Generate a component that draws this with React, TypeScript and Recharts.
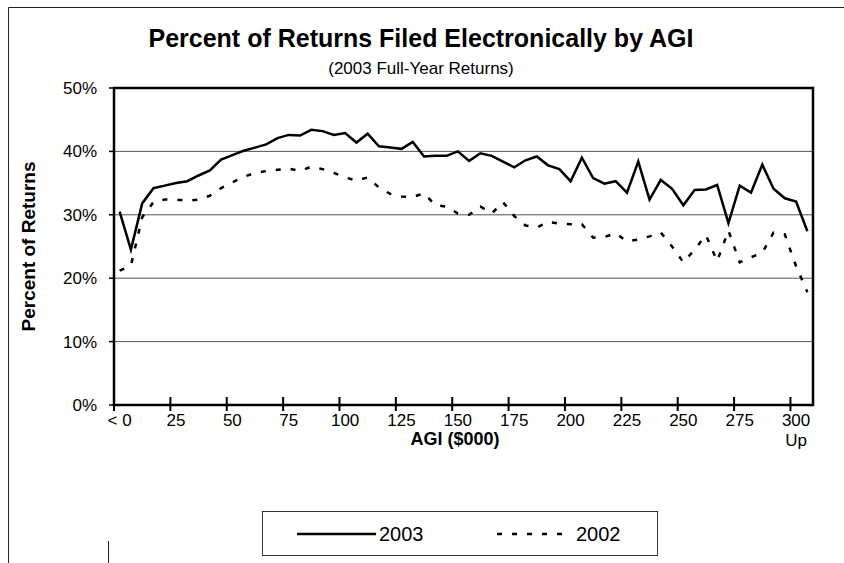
import { LineChart, Line, XAxis, YAxis, CartesianGrid, Legend } from "recharts";

// AGI bins in $000 (upper bound of each 5k bin)
const AGI_BINS = [
  "< 0", "5", "10", "15", "20", "25", "30", "35", "40", "45",
  "50", "55", "60", "65", "70", "75", "80", "85", "90", "95",
  "100", "105", "110", "115", "120", "125", "130", "135", "140", "145",
  "150", "155", "160", "165", "170", "175", "180", "185", "190", "195",
  "200", "205", "210", "215", "220", "225", "230", "235", "240", "245",
  "250", "255", "260", "265", "270", "275", "280", "285", "290", "295",
  "300", "300 Up",
];

// extra line under some tick labels
const TICK_TEXT: Record<string, string[]> = { "300": ["300", "Up"] };

const PCT_TICKS = [0, 10, 20, 30, 40, 50];

const SHARE_2003 = [
  30.5, 24.5, 31.8, 34.2, 34.6, 35.0, 35.3, 36.2, 37.0, 38.7,
  39.4, 40.1, 40.6, 41.1, 42.1, 42.6, 42.5, 43.4, 43.2, 42.6,
  42.9, 41.4, 42.8, 40.8, 40.6, 40.4, 41.5, 39.2, 39.3, 39.3,
  40.0, 38.5, 39.7, 39.3, 38.4, 37.5, 38.6, 39.2, 37.8, 37.2,
  35.3, 39.0, 35.8, 34.9, 35.3, 33.5, 38.4, 32.4, 35.5, 34.1,
  31.5, 33.9, 34.0, 34.7, 28.7, 34.6, 33.5, 37.9, 34.1, 32.6,
  32.1, 27.4,
];

const SHARE_2002 = [
  21.2, 22.0, 29.6, 32.0, 32.4, 32.4, 32.2, 32.4, 33.0, 34.2,
  35.1, 36.0, 36.6, 36.9, 37.1, 37.3, 36.9, 37.6, 37.2, 36.6,
  35.9, 35.4, 35.9, 34.3, 33.3, 32.9, 32.8, 33.4, 31.5, 31.3,
  30.2, 30.0, 31.3, 30.2, 32.0, 29.8, 28.3, 28.0, 28.9, 28.6,
  28.5, 28.5, 26.4, 26.5, 27.1, 25.8, 26.1, 26.6, 27.2, 25.0,
  22.5, 24.5, 26.8, 22.7, 27.5, 22.5, 23.3, 24.0, 27.2, 26.9,
  21.9, 17.8,
];

const SERIES = [
  { key: "y2003", name: "2003", dash: undefined as string | undefined },
  { key: "y2002", name: "2002", dash: "5 10" },
];

const data = AGI_BINS.map((bin, i) => ({ bin, y2003: SHARE_2003[i], y2002: SHARE_2002[i] }));

const FONT = '"Liberation Sans", Arial, Helvetica, sans-serif';
const W = 844;
const H = 563;
const PLOT_L = 114;
const PLOT_R = 813;
const PLOT_T = 88;
const PLOT_B = 405;
const BAND = (PLOT_R - PLOT_L) / AGI_BINS.length;

function AgiTick(props: any) {
  const { x, y, payload } = props;
  const lines = TICK_TEXT[payload.value] ?? [payload.value];
  const tx = x - BAND / 2;
  return (
    <g>
      <line x1={tx} x2={tx} y1={y - 8} y2={y + 6} stroke="#000" strokeWidth={2} />
      <text x={x} y={y + 21} textAnchor="middle" fontSize={17} fontFamily={FONT} fill="#000">
        {lines.map((t, i) => (
          <tspan key={i} x={x} dy={i === 0 ? 0 : 20}>{t}</tspan>
        ))}
      </text>
    </g>
  );
}

function LegendBox() {
  return (
    <div style={{ width: 396, height: 45, border: "1px solid #333", boxSizing: "border-box", background: "#fff" }}>
      <svg width={394} height={43} style={{ display: "block" }}>
        {SERIES.map((s, i) => {
          const x0 = i === 0 ? 34 : 234;
          return (
            <g key={s.key}>
              <line x1={x0} x2={x0 + (i === 0 ? 79 : 68)} y1={22} y2={22} stroke="#000" strokeWidth={2.5} strokeDasharray={s.dash} />
              <text x={i === 0 ? 116 : 313} y={29} fontSize={20} fontFamily={FONT} fill="#000">{s.name}</text>
            </g>
          );
        })}
      </svg>
    </div>
  );
}

export default function App() {
  return (
    <div style={{ position: "absolute", left: 0, top: 0, width: W, height: H, background: "#fff" }}>
      <LineChart
        width={W}
        height={H}
        data={data}
        margin={{ top: PLOT_T, right: W - PLOT_R, bottom: H - PLOT_B - 40, left: PLOT_L - 60 }}
      >
        <CartesianGrid vertical={false} stroke="#555" strokeWidth={1} />
        <XAxis
          dataKey="bin"
          height={40}
          interval={4}
          padding={{ left: BAND / 2, right: BAND / 2 }}
          axisLine={false}
          tickLine={false}
          tickSize={0}
          tickMargin={0}
          tick={<AgiTick />}
        />
        <YAxis
          width={60}
          domain={[0, 50]}
          ticks={PCT_TICKS}
          tickFormatter={(v: number) => `${v}%`}
          axisLine={false}
          tickLine={{ stroke: "#000", strokeWidth: 1.5 }}
          tickSize={5}
          tickMargin={12}
          tick={{ fontSize: 17, fill: "#000", fontFamily: FONT }}
        />
        <Legend
          layout="horizontal"
          verticalAlign="middle"
          align="center"
          wrapperStyle={{ left: 262, top: 511, width: 396, height: 45 }}
          content={() => <LegendBox />}
        />
        {SERIES.map((s) => (
          <Line
            key={s.key}
            dataKey={s.key}
            name={s.name}
            type="linear"
            stroke="#000"
            strokeWidth={2.5}
            strokeDasharray={s.dash}
            dot={false}
            activeDot={false}
            isAnimationActive={false}
          />
        ))}
      </LineChart>
      <svg width={W} height={H} style={{ position: "absolute", left: 0, top: 0, pointerEvents: "none" }}>
        <line x1={8.5} x2={W} y1={7.5} y2={7.5} stroke="#222" />
        <line x1={8.5} x2={8.5} y1={7.5} y2={H} stroke="#222" />
        <line x1={108.5} x2={108.5} y1={541} y2={H} stroke="#222" />
        <rect x={PLOT_L} y={PLOT_T} width={PLOT_R - PLOT_L} height={PLOT_B - PLOT_T} fill="none" stroke="#000" strokeWidth={2.5} />
        <text x={421} y={47} textAnchor="middle" fontSize={25} fontWeight="bold" fontFamily={FONT}>
          Percent of Returns Filed Electronically by AGI
        </text>
        <text x={421} y={74} textAnchor="middle" fontSize={17} fontFamily={FONT}>
          (2003 Full-Year Returns)
        </text>
        <text
          x={0}
          y={0}
          transform={`translate(35, ${(PLOT_T + PLOT_B) / 2}) rotate(-90)`}
          textAnchor="middle"
          fontSize={19}
          fontWeight="bold"
          fontFamily={FONT}
        >
          Percent of Returns
        </text>
        <text x={455} y={445} textAnchor="middle" fontSize={18} fontWeight="bold" fontFamily={FONT}>
          AGI ($000)
        </text>
      </svg>
    </div>
  );
}
